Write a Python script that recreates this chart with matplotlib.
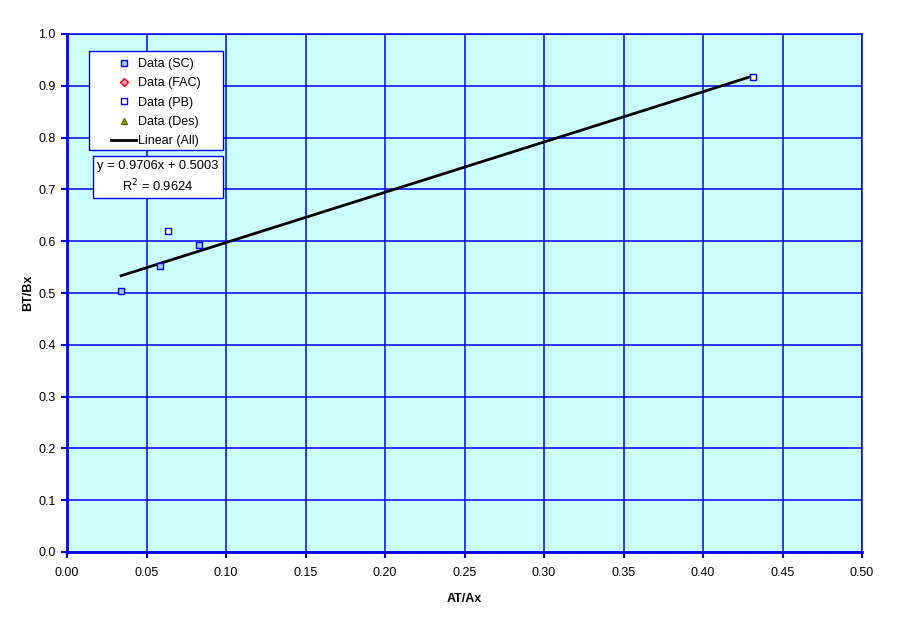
import matplotlib
matplotlib.use("Agg")
import matplotlib.pyplot as plt
from matplotlib.lines import Line2D
from matplotlib.patches import Rectangle
import numpy as np

plt.rcParams['font.family'] = ['Liberation Sans', 'DejaVu Sans']

sc_x = [0.034, 0.0585, 0.083]
sc_y = [0.504, 0.552, 0.593]
pb_x = [0.0635, 0.4315]
pb_y = [0.620, 0.917]
fac_x, fac_y = [], []
des_x, des_y = [], []
slope, intercept, r2 = 0.9706, 0.5003, 0.9624
fit_range = [0.034, 0.4315]

x_ticks = [0.00, 0.05, 0.10, 0.15, 0.20, 0.25, 0.30, 0.35, 0.40, 0.45, 0.50]
y_ticks = [0.0, 0.1, 0.2, 0.3, 0.4, 0.5, 0.6, 0.7, 0.8, 0.9, 1.0]

W, H = 911, 623
L, R, T, B = 67, 862, 34, 552

def ax_frac(px, py):
    return (px - L) / (R - L), (B - py) / (B - T)

fig = plt.figure(figsize=(W/100, H/100), dpi=100)
ax = fig.add_axes([L/W, 1-B/H, (R-L)/W, (B-T)/H])
ax.set_facecolor('#CCFFFF')
ax.set_xlim(0, 0.5)
ax.set_ylim(0, 1.0)
ax.set_xticks(x_ticks)
ax.set_yticks(y_ticks)
ax.set_xticklabels([f"{t:.2f}" for t in x_ticks], fontsize=9)
ax.set_yticklabels([f"{t:.1f}" for t in y_ticks], fontsize=9)
ax.grid(True, color='#0000FF', linewidth=1.1)
ax.set_axisbelow(True)
for s in ax.spines.values():
    s.set_color('#0000FF')
    s.set_linewidth(1.1)
ax.spines['left'].set_linewidth(2)
ax.spines['bottom'].set_linewidth(2)
ax.tick_params(axis='both', color='#0000FF', width=1.5, length=4, direction='out')
ax.tick_params(axis='y', pad=4.3)
ax.tick_params(axis='x', pad=7)

fx = np.array(fit_range)
ax.plot(fx, slope*fx + intercept, color='black', linewidth=2, zorder=3)
ax.scatter(sc_x, sc_y, marker='s', s=22, facecolor='#99CCFF', edgecolor='#0000FF', linewidth=1, zorder=4)
ax.scatter(pb_x, pb_y, marker='s', s=22, facecolor='white', edgecolor='#0000FF', linewidth=1, zorder=4)

ax.set_xlabel('AT/Ax', fontsize=9, fontweight='bold', labelpad=10)
ax.set_ylabel('BT/Bx', fontsize=9, fontweight='bold', labelpad=3)

# legend frame
x0, y0 = ax_frac(89, 150)
x1, y1 = ax_frac(223, 51)
ax.add_patch(Rectangle((x0, y0), x1-x0, y1-y0, transform=ax.transAxes,
                       facecolor='white', edgecolor='#0000FF', linewidth=1, zorder=5))

handles = [
    Line2D([], [], linestyle='none', marker='s', markersize=4.5, markerfacecolor='#99CCFF', markeredgecolor='#0000FF'),
    Line2D([], [], linestyle='none', marker='D', markersize=4, markerfacecolor='#FF99CC', markeredgecolor='#FF0000'),
    Line2D([], [], linestyle='none', marker='s', markersize=4.5, markerfacecolor='white', markeredgecolor='#0000FF'),
    Line2D([], [], linestyle='none', marker='^', markersize=5, markerfacecolor='#999900', markeredgecolor='#666600'),
    Line2D([], [], color='black', linewidth=2),
]
labels = ['Data (SC)', 'Data (FAC)', 'Data (PB)', 'Data (Des)', 'Linear (All)']
lx, ly = ax_frac(111, 58)
leg = ax.legend(handles, labels, loc='upper left', bbox_to_anchor=(lx, ly),
                fontsize=9, frameon=False, borderpad=0, handlelength=2.0,
                handletextpad=0.15, labelspacing=0.585, borderaxespad=0)
leg.set_zorder(6)

tx, ty = ax_frac(158, 177)
ax.text(tx, ty, f"y = {slope}x + {intercept}\nR$^2$ = {r2}",
        transform=ax.transAxes, fontsize=9.3, ha='center', va='center', linespacing=1.4,
        bbox=dict(boxstyle='square,pad=0.3', facecolor='white', edgecolor='#0000FF', linewidth=1), zorder=6)

fig.savefig('out.png', dpi=100)
